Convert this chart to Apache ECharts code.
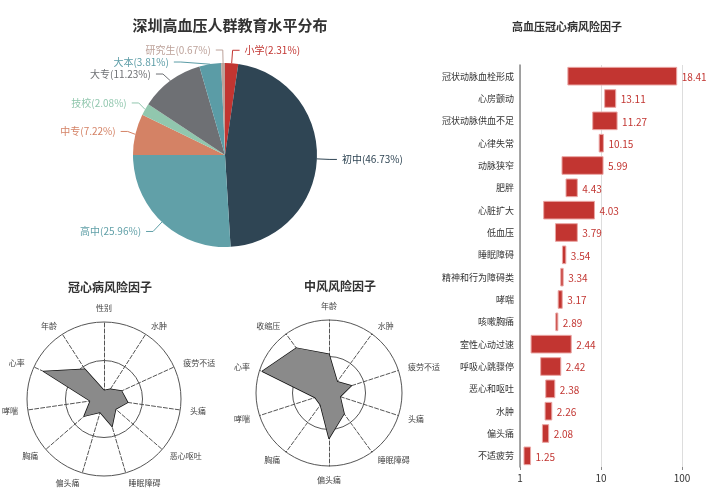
<!DOCTYPE html>
<html>
<head>
<meta charset="utf-8">
<script src="https://cdn.jsdelivr.net/npm/echarts@6/dist/echarts.min.js"></script>
<style>
html,body{margin:0;padding:0;background:#fff;}
#main{width:714px;height:499px;}
</style>
</head>
<body>
<div id="main"></div>
<script>
// 教育水平分布
var eduNames = ['小学', '初中', '高中', '中专', '技校', '大专', '大本', '研究生'];
var eduValues = [2.31, 46.73, 25.96, 7.22, 2.08, 11.23, 3.81, 0.67];
var eduColors = ['#c23531', '#2f4554', '#61a0a8', '#d48265', '#91c7ae', '#6e7074', '#5b9ca6', '#bda29a'];

// 冠心病风险因子 雷达 (顺时针顺序)
var chdAxes = ['性别', '水肿', '疲劳不适', '头痛', '恶心呕吐', '睡眠障碍', '偏头痛', '胸痛', '哮喘', '心率', '年龄'];
var chdValues = [11, 15, 25, 31, 20, 37, 18, 34, 18, 86, 46];

// 中风风险因子 雷达 (顺时针顺序)
var strokeAxes = ['年龄', '水肿', '疲劳不适', '头痛', '睡眠障碍', '偏头痛', '胸痛', '哮喘', '心率', '收缩压'];
var strokeValues = [53, 19, 32, 16, 35, 62, 20, 20, 96, 76];

// 高血压冠心病风险因子 (OR 及区间)
var riskNames = ['冠状动脉血栓形成', '心房颤动', '冠状动脉供血不足', '心律失常', '动脉狭窄', '肥胖', '心脏扩大', '低血压', '睡眠障碍',
    '精神和行为障碍类', '哮喘', '咳嗽胸痛', '室性心动过速', '呼吸心跳骤停', '恶心和呕吐', '水肿', '偏头痛', '不适疲劳'];
var riskOR = [18.41, 13.11, 11.27, 10.15, 5.99, 4.43, 4.03, 3.79, 3.54, 3.34, 3.17, 2.89, 2.44, 2.42, 2.38, 2.26, 2.08, 1.25];
var riskLow = [3.9, 11.1, 7.9, 9.5, 3.3, 3.7, 1.96, 2.74, 3.34, 3.19, 2.96, 2.77, 1.37, 1.8, 2.08, 2.04, 1.89, 1.12];
var riskHigh = [86, 15.2, 15.8, 10.7, 10.6, 5.1, 8.3, 5.1, 3.68, 3.41, 3.32, 2.93, 4.29, 3.19, 2.69, 2.47, 2.26, 1.35];
var xTicks = [1, 10, 100];

var myChart = echarts.init(document.getElementById('main'));

// echarts 雷达是逆时针排列的，这里把顺序翻过来
function cw(arr) {
    return [arr[0]].concat(arr.slice(1).reverse());
}

var pieData = eduNames.map(function (n, i) {
    return {name: n, value: eduValues[i], itemStyle: {color: eduColors[i]}, label: {color: eduColors[i]}};
});
var barData = riskNames.map(function (n, i) {
    return [i, riskLow[i], riskHigh[i], riskOR[i]];
});

var radarBase = {
    shape: 'circle', splitNumber: 2, startAngle: 90,
    axisName: {color: '#444', fontSize: 8},
    nameGap: 10,
    splitLine: {lineStyle: {color: '#555', width: 1}},
    splitArea: {show: false},
    axisLine: {lineStyle: {color: '#555', type: 'dashed'}}
};

var option = {
    backgroundColor: '#fff',
    textStyle: {fontFamily: '"Noto Sans CJK SC", sans-serif'},
    title: [
        {text: '深圳高血压人群教育水平分布', left: 225, top: 13, textAlign: 'center',
            textStyle: {fontSize: 15, fontWeight: 'bold', color: '#333'}},
        {text: '冠心病风险因子', left: 105, top: 276, textAlign: 'center',
            textStyle: {fontSize: 12, fontWeight: 'bold', color: '#333'}},
        {text: '中风风险因子', left: 335, top: 275, textAlign: 'center',
            textStyle: {fontSize: 12, fontWeight: 'bold', color: '#333'}},
        {text: '高血压冠心病风险因子', left: 562, top: 16, textAlign: 'center',
            textStyle: {fontSize: 11, fontWeight: 'bold', color: '#333'}}
    ],
    radar: [
        Object.assign({}, radarBase, {
            center: [104, 399], radius: 77,
            indicator: cw(chdAxes).map(function (a) { return {name: a, max: 100}; })
        }),
        Object.assign({}, radarBase, {
            center: [329, 393], radius: 73,
            indicator: cw(strokeAxes).map(function (a) { return {name: a, max: 100}; })
        })
    ],
    grid: {left: 520, right: 32, top: 65, bottom: 32},
    xAxis: {
        type: 'log', logBase: 10, min: 1, max: 100,
        axisLine: {lineStyle: {color: '#888', width: 1.5}},
        axisTick: {show: true, length: 3, lineStyle: {color: '#888'}},
        axisLabel: {fontSize: 10, color: '#333', margin: 6,
            formatter: function (v) { return xTicks.indexOf(v) >= 0 ? String(v) : ''; }},
        splitLine: {show: true, lineStyle: {color: '#ddd'}}
    },
    yAxis: {
        type: 'category', data: riskNames, inverse: true,
        axisLine: {lineStyle: {color: '#888', width: 1.5}},
        axisTick: {show: false},
        axisLabel: {fontSize: 9, color: '#333', margin: 6}
    },
    series: [
        {
            type: 'pie', center: [225, 155], radius: 92, startAngle: 90,
            data: pieData,
            label: {formatter: '{b}({c}%)', fontSize: 10},
            labelLine: {length: 13, length2: 7, lineStyle: {width: 1}}
        },
        {
            type: 'radar', radarIndex: 0, symbol: 'none',
            data: [{value: cw(chdValues), name: '冠心病风险因子'}],
            lineStyle: {color: '#111', width: 1.5},
            areaStyle: {color: '#8a8a8a', opacity: 1}
        },
        {
            type: 'radar', radarIndex: 1, symbol: 'none',
            data: [{value: cw(strokeValues), name: '中风风险因子'}],
            lineStyle: {color: '#111', width: 1.5},
            areaStyle: {color: '#8a8a8a', opacity: 1}
        },
        {
            type: 'custom',
            encode: {x: [1, 2], y: 0},
            data: barData,
            renderItem: function (params, api) {
                var idx = api.value(0);
                var start = api.coord([api.value(1), idx]);
                var end = api.coord([api.value(2), idx]);
                var h = api.size([1, 1])[1] * 0.79;
                return {
                    type: 'group',
                    children: [
                        {type: 'rect',
                            shape: {x: start[0], y: start[1] - h / 2, width: end[0] - start[0], height: h},
                            style: {fill: '#c23531', stroke: '#eaa6a4', lineWidth: 1}},
                        {type: 'text',
                            style: {text: api.value(3).toFixed(2), x: end[0] + 5, y: end[1] + 1,
                                verticalAlign: 'middle', fill: '#c23531', fontSize: 10,
                                fontFamily: '"Noto Sans CJK SC", sans-serif'}}
                    ]
                };
            }
        }
    ]
};
myChart.setOption(option);
</script>
</body>
</html>
